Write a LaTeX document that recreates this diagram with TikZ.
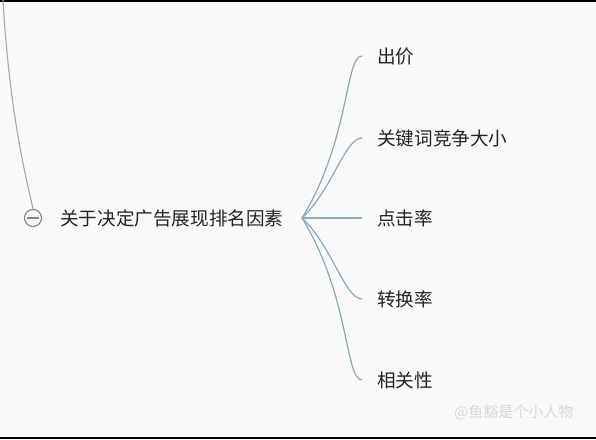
\documentclass[tikz,border=0pt]{standalone}
\usepackage{fontspec}
\setmainfont{Noto Sans CJK SC}
\begin{document}
\begin{tikzpicture}[x=1pt,y=-1pt,
  branch/.style={draw={rgb,255:red,138;green,168;blue,185}, line width=1.2pt},
  childtext/.style={anchor=west, inner xsep=15pt, inner ysep=0pt, text={rgb,255:red,35;green,35;blue,35}, font=\fontsize{18.6}{21}\selectfont},
  toggle/.style={circle, draw={rgb,255:red,130;green,130;blue,130}, line width=1.1pt, minimum size=17pt, inner sep=0pt}]
\useasboundingbox (0,0) rectangle (596,439);
\fill[color={rgb,255:red,249;green,249;blue,249}] (0,0) rectangle (596,439);
\fill[black] (0,0) rectangle (596,1.5);
\fill[black] (0,436.5) rectangle (596,439);
% parent connector
\coordinate (top) at (3,0);
\node[toggle] (tog) at (33,218) {};
\draw[draw={rgb,255:red,150;green,172;blue,178}, line width=1.1pt] (top) .. controls (10,120) and (28,185) .. (tog.north);
\draw[draw={rgb,255:red,130;green,130;blue,130}, line width=1.1pt] ([xshift=-6pt]tog.center) -- ([xshift=6pt]tog.center);
% main topic
\node[anchor=west, inner sep=0pt, text={rgb,255:red,35;green,35;blue,35}, font=\fontsize{18.6}{21}\selectfont] (main) at (60,218) {关于决定广告展现排名因素};
\coordinate (hub) at (302,218);
% children
\node[childtext] (c1) at (362,56) {出价};
\node[childtext] (c2) at (362,138) {关键词竞争大小};
\node[childtext] (c3) at (362,218) {点击率};
\node[childtext] (c4) at (362,299) {转换率};
\node[childtext] (c5) at (362,380) {相关性};
\draw[branch] (hub) .. controls (350,140) and (345,56) .. (c1.west);
\draw[branch] (hub) .. controls (332,190) and (345,138) .. (c2.west);
\draw[branch] (hub) -- (c3.west);
\draw[branch] (hub) .. controls (332,246) and (345,299) .. (c4.west);
\draw[branch] (hub) .. controls (350,296) and (345,380) .. (c5.west);
% watermark
\node[anchor=west, inner sep=0pt, text={rgb,255:red,215;green,215;blue,215}, font=\fontsize{15}{17}\selectfont] (wm) at (454,412) {@鱼豁是个小人物};
\end{tikzpicture}
\end{document}
